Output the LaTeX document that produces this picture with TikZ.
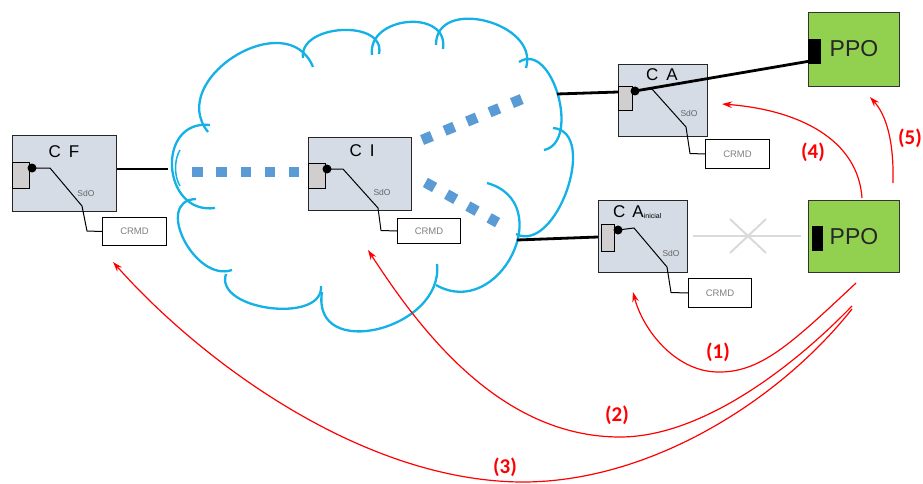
\documentclass[tikz,border=0pt]{standalone}
\usepackage{fontspec}
\setmainfont{Liberation Sans}
\newfontfamily\lblfont{Carlito}
\usetikzlibrary{arrows.meta,calc}
\definecolor{boxfill}{HTML}{D6DCE5}
\definecolor{portfill}{HTML}{D0CECE}
\definecolor{ppogreen}{HTML}{92D050}
\definecolor{cloudblue}{HTML}{14B1E7}
\definecolor{dotblue}{HTML}{5B9BD5}
\definecolor{arrowred}{HTML}{FF0000}
\definecolor{xgray}{HTML}{DADADA}
\tikzset{
 cbox/.style={draw=black!85, line width=1.1pt, fill=boxfill, anchor=north west, inner sep=0},
 port/.style={draw=black, line width=0.9pt, fill=portfill, anchor=north west, inner sep=0},
 crmd/.style={draw=black, line width=1pt, fill=white, anchor=north west, inner sep=0, font=\fontsize{9.5}{10}\selectfont, text=black!50},
 sdo/.style={font=\fontsize{8.5}{9}\selectfont, text=black!60, inner sep=0},
 ctitle/.style={font=\fontsize{17}{18}\selectfont, inner sep=0},
 ppo/.style={draw=black!80, line width=1.1pt, fill=ppogreen, anchor=north west, inner sep=0},
 ppoport/.style={fill=black, anchor=north west, inner sep=0},
 ppotext/.style={font=\fontsize{23}{25}\selectfont, text=black!85, inner sep=0},
 jdot/.style={circle, fill=black, minimum size=9pt, inner sep=0},
 wire/.style={line width=1pt},
 heavylink/.style={line width=2.8pt},
 graylink/.style={xgray, line width=2pt},
 dotlink/.style={dotblue, line width=10.5pt, dash pattern=on 10.5pt off 13.8pt},
 redarrow/.style={arrowred, line width=1.2pt, -{Stealth[length=10pt,width=6.5pt]}},
 num/.style={text=arrowred, font=\lblfont\bfseries\fontsize{21}{22}\selectfont, inner sep=0},
 cloudline/.style={cloudblue, line width=2.3pt},
}
\newcommand\cloudlobe[3]{\draw[cloudline] (#1) .. controls ($0.413*(#1)+1.333*(#2)-0.746*(#3)$) and ($0.413*(#3)+1.333*(#2)-0.746*(#1)$) .. (#3);}
\begin{document}
\begin{tikzpicture}[x=1pt,y=-1pt]
\useasboundingbox[fill=white] (0,0) rectangle (923,484);

% cloud
\cloudlobe{215,208}{172,167}{210,125}
\cloudlobe{208,132}{235,56}{313,67}
\cloudlobe{303,58}{342,30}{379,54}
\cloudlobe{372,55}{408,22}{443,49}
\cloudlobe{436,45}{486,21}{526,68}
\cloudlobe{519,62}{558,95}{544,150}
\cloudlobe{553,128}{567,190}{516,234}
\cloudlobe{487,183}{512,255}{436,285}
\cloudlobe{322,292}{378,329}{437,264}
\cloudlobe{226,274}{270,308}{321,286}
\cloudlobe{196,199}{184,240}{232,270}
\draw[cloudline, line width=1.5pt] (180,150) .. controls (174,160) and (174,176) .. (180,186);

% CF
\begin{scope}[shift={(12,135)}]
\node[cbox, minimum width=104pt, minimum height=76pt] (CF) at (0,0) {};
\node[ctitle] (CFt) at (52,17) {C\hspace{8pt}F};
\node[port, minimum width=17pt, minimum height=26pt] (CFp) at (0,27) {};
\node[jdot] (CFd) at (20,33) {};
\node[crmd, minimum width=64pt, minimum height=28pt] (CFc) at (90,82) {CRMD};
\node[sdo] (CFs) at (74,58) {SdO};
\draw[wire] (CFd.center) -- (38,33) -- (70,71) -- (75,96) -- (CFc.west);
\end{scope}

% CI
\begin{scope}[shift={(308,137)}]
\node[cbox, minimum width=103pt, minimum height=73pt] (CI) at (0,0) {};
\node[ctitle] (CIt) at (54,14) {C\hspace{8pt}I};
\node[port, minimum width=17pt, minimum height=25pt] (CIp) at (0,26) {};
\node[jdot] (CId) at (19,32) {};
\node[crmd, minimum width=63pt, minimum height=25pt] (CIc) at (89,81) {CRMD};
\node[sdo] (CIs) at (74,55) {SdO};
\draw[wire] (CId.center) -- (35,32) -- (70,71) -- (73,93.5) -- (CIc.west);
\end{scope}

% CA
\begin{scope}[shift={(618,64)}]
\node[cbox, minimum width=89pt, minimum height=72pt] (CA) at (0,0) {};
\node[ctitle] (CAt) at (44,11) {C\hspace{8pt}A};
\node[port, minimum width=14pt, minimum height=24pt] (CAp) at (0,22) {};
\node[jdot] (CAd) at (17,27) {};
\node[crmd, minimum width=64pt, minimum height=29pt] (CAc) at (87,75) {CRMD};
\node[sdo] (CAs) at (71,49) {SdO};
\draw[wire] (CAd.center) -- (34,25) -- (68,63) -- (72,89.5) -- (CAc.west);
\end{scope}

% CA inicial
\begin{scope}[shift={(598,200)}]
\node[cbox, minimum width=89pt, minimum height=72pt] (CAi) at (0,0) {};
\node[ctitle, anchor=west] (CAit) at (15,12) {C\hspace{7pt}A\raisebox{-1.5pt}{\fontsize{7}{8}\selectfont inicial}};
\node[port, minimum width=13pt, minimum height=27pt] (CAip) at (3,24) {};
\node[jdot] (CAid) at (20,30) {};
\node[crmd, minimum width=63pt, minimum height=29pt] (CAic) at (90,78) {CRMD};
\node[sdo] (CAis) at (73,53) {SdO};
\draw[wire] (CAid.center) -- (36,28) -- (69,67) -- (73,92.5) -- (CAic.west);
\end{scope}

% PPO boxes
\node[ppo, minimum width=91pt, minimum height=74pt] (P1) at (808,12) {};
\node[ppoport, minimum width=13pt, minimum height=25pt] (P1p) at (808,39) {};
\node[ppotext] (P1t) at (854,49) {PPO};
\node[ppo, minimum width=91pt, minimum height=72pt] (P2) at (808,200) {};
\node[ppoport, minimum width=11pt, minimum height=25pt] (P2p) at (812,226) {};
\node[ppotext] (P2t) at (854,237) {PPO};

% black links
\coordinate (cl) at (168,169);
\draw[heavylink] (CF.east |- cl) -- (cl);
\coordinate (cr1) at (557,94);
\draw[heavylink] (cr1) -- ($(CA.north west)+(0,28)$);
\draw[heavylink] (CAd.center) -- ($(P1p.south west)+(0,-3)$);
\coordinate (cr2) at (517,240);
\draw[heavylink] (cr2) -- ($(CAi.north west)+(0,37)$);

% dotted links in the cloud
\coordinate (d1a) at (192,172); \coordinate (d1b) at (299,172);
\draw[dotlink] (d1a) -- (d1b);
\coordinate (d2a) at (422.1,140); \coordinate (d2b) at (521.9,99);
\draw[dotlink] (d2a) -- (d2b);
\coordinate (d3a) at (425.4,182.4); \coordinate (d3b) at (497.6,222.6);
\draw[dotlink] (d3a) -- (d3b);

% broken link
\coordinate (g1) at (693,236); \coordinate (g2) at (801,236);
\draw[graylink] (g1) -- (g2);
\coordinate (x1) at (730,219); \coordinate (x2) at (766,253);
\coordinate (x3) at (730,253); \coordinate (x4) at (766,219);
\draw[graylink] (x1) -- (x2);
\draw[graylink] (x3) -- (x4);

% red arrows
\coordinate (s1) at (856,283);
\coordinate (s2) at (852,306);
\coordinate (s3) at (852,309);
\coordinate (t1) at (633,292);
\coordinate (t2) at (368,250);
\coordinate (t3) at (113,262);
\coordinate (s4) at (862,198);
\coordinate (t4) at (722,104);
\coordinate (s5) at (893,183);
\coordinate (t5) at (870,97);
\draw[redarrow] (s1) .. controls (790,345) and (760,373) .. (717,372) .. controls (675,371) and (643,330) .. (t1);
\draw[redarrow] (s2) .. controls (790,370) and (700,437) .. (620,437) .. controls (500,437) and (420,330) .. (t2);
\draw[redarrow] (s3) .. controls (780,400) and (650,483) .. (520,482) .. controls (360,480) and (200,360) .. (t3);
\draw[redarrow] (s4) .. controls (858,140) and (800,110) .. (t4);
\draw[redarrow] (s5) .. controls (894,140) and (886,115) .. (t5);

\node[num] (n1) at (718,352) {(1)};
\node[num] (n2) at (617,415) {(2)};
\node[num] (n3) at (505,467) {(3)};
\node[num] (n4) at (813,152) {(4)};
\node[num] (n5) at (910,138) {(5)};
\end{tikzpicture}
\end{document}
